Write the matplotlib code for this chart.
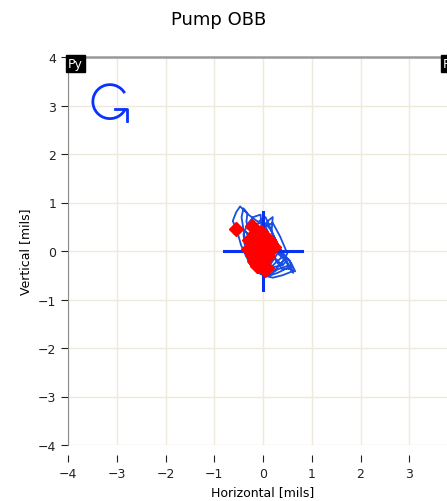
import numpy as np
import matplotlib.pyplot as plt
from matplotlib.patches import Arc

# orbit trace (mils)
orbit_x = [0.00, -0.05, -0.20, -0.32, -0.40, -0.38, -0.30, -0.28, -0.15, 0.00, 0.20, 0.40,
           0.60, 0.55, 0.40, 0.30, 0.20, 0.12, 0.05, -0.10, -0.30, -0.47, -0.55, -0.62,
           -0.55, -0.50, -0.45, -0.35, -0.25, -0.10, 0.10, 0.30, 0.50, 0.66, 0.58, 0.45,
           0.35, 0.25, 0.15, 0.02, -0.15, -0.30, -0.34, -0.32, -0.40, -0.44, -0.38, -0.28,
           -0.20, -0.05, 0.15, 0.35, 0.45, 0.35, 0.20, 0.10, -0.05, -0.20, -0.28, -0.20,
           -0.05, 0.15, 0.30, 0.52, 0.62, 0.48, 0.32, 0.22, 0.18, 0.20, 0.10, 0.00,
           -0.12, -0.22, -0.15, 0.05, 0.25, 0.42, 0.30, 0.12, -0.02, -0.06, 0.08, 0.18,
           0.28, 0.40, 0.55, 0.45, 0.30, 0.15, 0.05, 0.12, 0.22, 0.15, 0.05, 0.20,
           0.35, 0.50, 0.38, 0.22, 0.10, 0.00, -0.15, -0.25, -0.35, -0.22, -0.05, 0.10,
           0.25, 0.40, 0.48, 0.30, 0.18, 0.08, 0.00]
orbit_y = [0.00, 0.75, 0.70, 0.55, 0.35, 0.15, -0.05, -0.25, -0.40, -0.50, -0.55, -0.50,
           -0.42, -0.20, -0.05, 0.15, 0.35, 0.55, 0.70, 0.60, 0.75, 0.92, 0.80, 0.62,
           0.45, 0.30, 0.12, -0.10, -0.30, -0.45, -0.52, -0.45, -0.35, -0.42, -0.25, -0.10,
           0.05, 0.25, 0.45, 0.60, 0.55, 0.45, 0.60, 0.78, 0.88, 0.70, 0.30, 0.05,
           -0.15, -0.30, -0.35, -0.30, -0.15, 0.00, 0.15, 0.35, 0.45, 0.35, 0.10, -0.15,
           -0.40, -0.48, -0.38, -0.30, -0.45, -0.20, -0.02, 0.20, 0.45, 0.70, 0.62, 0.40,
           0.20, 0.00, -0.25, -0.45, -0.25, -0.10, 0.05, 0.25, 0.10, -0.20, -0.30, -0.05,
           -0.22, -0.38, -0.36, -0.18, -0.05, -0.28, -0.40, -0.12, 0.10, 0.30, 0.50, 0.58,
           0.30, -0.05, -0.25, -0.42, -0.30, -0.12, 0.05, 0.25, 0.40, 0.15, -0.10, -0.25,
           -0.15, -0.30, -0.20, 0.02, 0.20, 0.10, 0.00]

# red keyphasor dots
red_x = [-0.55, -0.23, -0.18, -0.12, -0.05, 0.02, 0.08, 0.12, -0.15, -0.08, 0.00,
         0.05, -0.10, -0.02, 0.10, 0.23, 0.08, 0.05, -0.20, -0.24, 0.15, -0.05, -0.16,
         0.00, -0.28, -0.30, -0.22, -0.12, -0.18, 0.05, 0.12, -0.05]
red_y = [0.45, 0.52, 0.35, 0.25, 0.30, 0.20, 0.10, 0.00, 0.10, 0.00, -0.05,
         -0.15, -0.20, -0.28, -0.10, 0.08, -0.35, -0.40, 0.20, 0.05, 0.05, 0.40, -0.10,
         0.32, 0.22, 0.05, -0.08, -0.30, -0.20, 0.15, 0.22, 0.10]

xticks = [-4, -3, -2, -1, 0, 1, 2, 3]
yticks = [-4, -3, -2, -1, 0, 1, 2, 3, 4]

fig = plt.figure(figsize=(4.47, 5.02), dpi=100)
ax = fig.add_axes([68/447, 1 - 446/502, 390/447, 388/502])

ax.plot(orbit_x, orbit_y, color="#1a4ee0", lw=1.3, zorder=3)

# cross at the centre
ax.plot([-0.8, 0.8], [0, 0], color="#0a30f0", lw=2.2, zorder=4)
ax.plot([0, 0], [-0.8, 0.8], color="#0a30f0", lw=2.2, zorder=4)

ax.plot(red_x, red_y, "D", color="#ff0000", ms=7, mec="#ff0000", zorder=5)

# rotation arrow
ax.add_patch(Arc((-3.14, 3.08), 0.7, 0.7, theta1=30, theta2=335,
                 color="#0a32ff", lw=2, zorder=5))
ax.plot([-3.04, -2.78, -2.78], [2.93, 2.93, 2.68], color="#0a32ff", lw=2, zorder=5)

ax.set_xlim(-4, 4)
ax.set_ylim(-4, 4)
ax.set_xticks(xticks)
ax.set_yticks(yticks)
ax.grid(True, color="#eeeadb", lw=1)
ax.set_axisbelow(True)

for s in ["right", "bottom"]:
    ax.spines[s].set_visible(False)
ax.spines["bottom"].set_position(("outward", 7))
ax.spines["left"].set_color("#8a8a8a")
ax.spines["top"].set_color("#999999")
ax.spines["top"].set_linewidth(1.8)
ax.tick_params(labelsize=9, length=5, colors="#222222")

ax.text(0, 1, "Py", transform=ax.transAxes, ha="left", va="top", color="white",
        fontsize=9, bbox=dict(facecolor="black", edgecolor="black", pad=1.5))
ax.text(1, 1, "Px", transform=ax.transAxes, ha="right", va="top", color="white",
        fontsize=9, bbox=dict(facecolor="black", edgecolor="black", pad=1.5))

fig.text(219/447, 1 - 20/502, "Pump OBB", ha="center", va="center", fontsize=13)
ax.set_xlabel("Horizontal [mils]", fontsize=9)
ax.set_ylabel("Vertical [mils]", fontsize=9)

plt.savefig("out.png", dpi=100)
